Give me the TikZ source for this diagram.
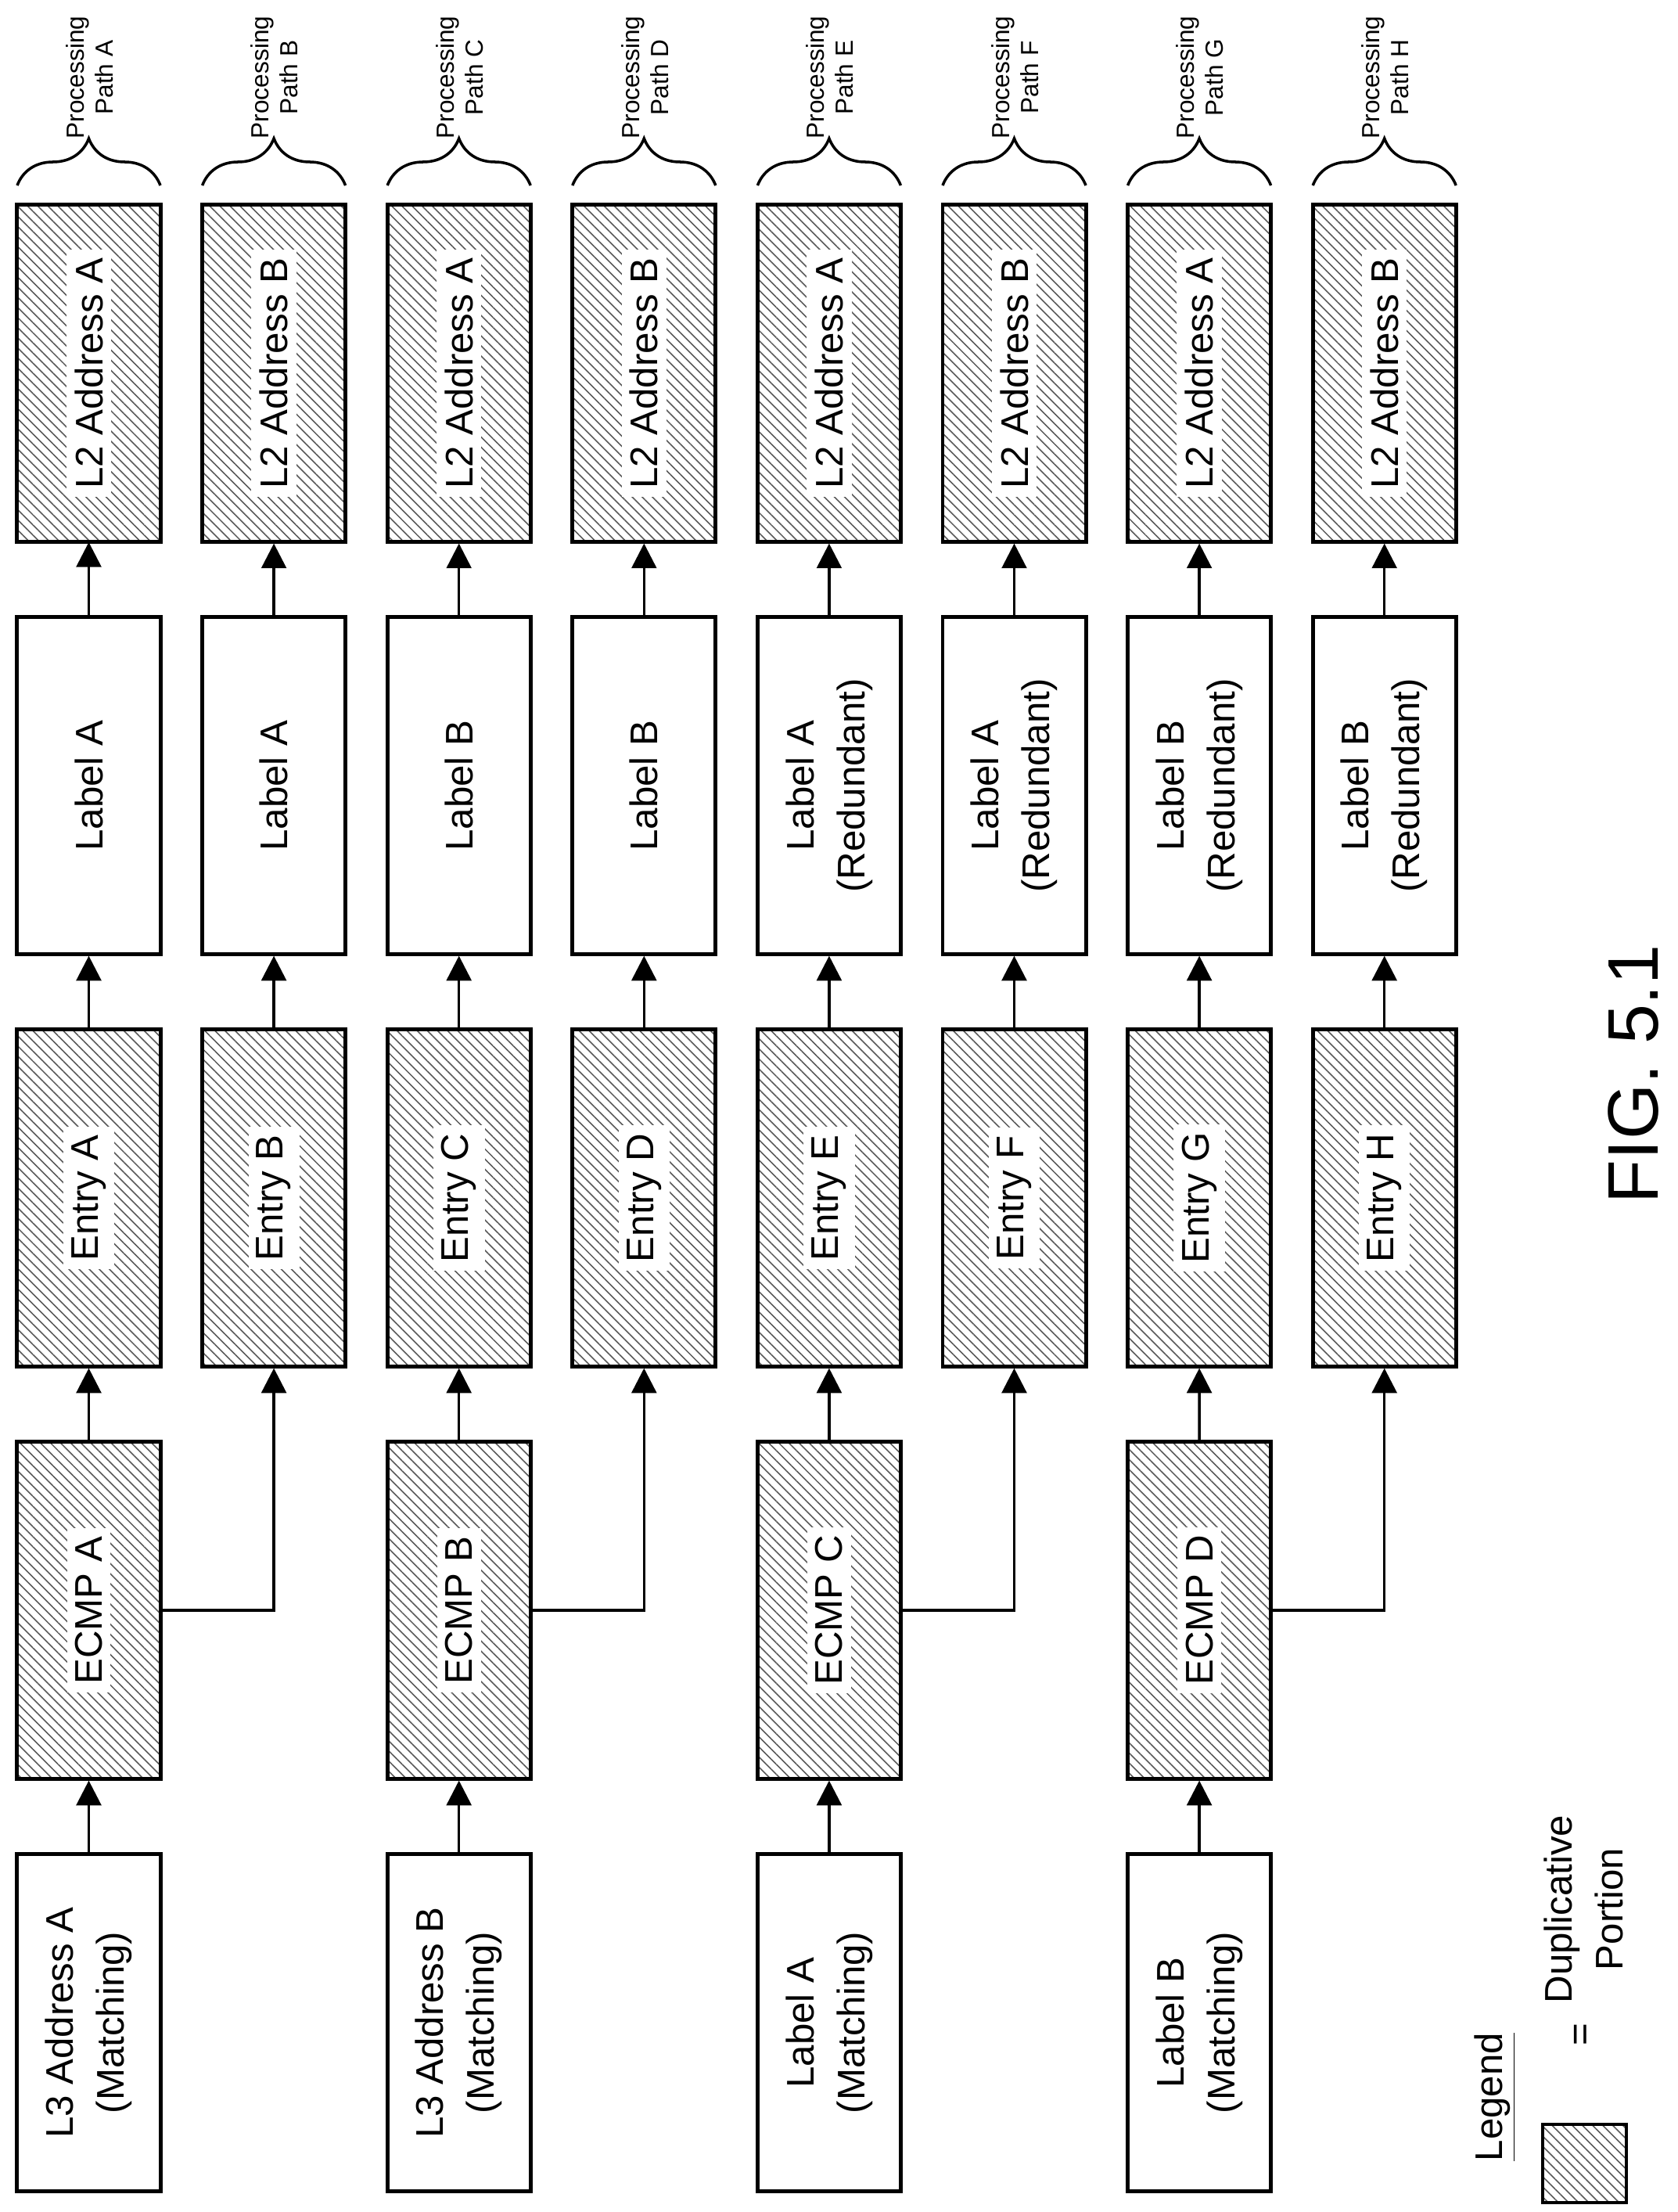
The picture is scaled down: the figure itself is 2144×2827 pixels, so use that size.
\documentclass[tikz,border=0pt]{standalone}
\usepackage{fontspec}
\setmainfont{Liberation Sans}
\usetikzlibrary{arrows.meta,patterns.meta,decorations.pathreplacing}

\begin{document}
\begin{tikzpicture}[
    x=0.01cm, y=-0.01cm,
    box/.style={
      rectangle,
      draw=black,
      line width=1.4pt,
      rotate=90,
      minimum width=4.3cm,
      minimum height=1.83cm,
      inner sep=0pt
    },
    dup/.style={
      box,
      pattern={Lines[angle=-45,distance=2.6pt,line width=0.45pt]},
      pattern color=black!65
    },
    txt/.style={
      rotate=90,
      align=center,
      font=\fontsize{14}{18.5}\selectfont
    },
    duptxt/.style={
      txt,
      fill=white,
      inner sep=3pt
    },
    flow/.style={
      -{Triangle[length=9pt,width=9pt]},
      line width=1pt
    },
    pathtag/.style={
      rotate=90,
      align=center,
      font=\fontsize{9}{10.5}\selectfont
    }
  ]
    \useasboundingbox (0,0) rectangle (2144,2827);

    % Processing paths A-H
    \foreach \c/\l/\m/\r [count=\i from 0] in {A/A/A/,B/B/A/,C/A/B/,D/B/B/,
        E/A/A/{\\(Redundant)},F/B/A/{\\(Redundant)},G/A/B/{\\(Redundant)},H/B/B/{\\(Redundant)}} {
      \pgfmathsetmacro\xx{113.5+236.6*\i}
      \node[dup] (ltwo\c) at (\xx,477) {};
      \node[duptxt] at (ltwo\c) {L2 Address \l};
      \node[box] (lab\c) at (\xx,1004) {};
      \node[txt] at (lab\c) {Label \m\r};
      \node[dup] (ent\c) at (\xx,1531) {};
      \node[duptxt] at (ent\c) {Entry \c};
      \draw[flow] (ent\c.east) -- (lab\c.west);
      \draw[flow] (lab\c.east) -- (ltwo\c.west);
      \draw[decorate, decoration={brace, amplitude=0.6cm}, line width=1pt]
        (\xx-91.5,237) -- (\xx+91.5,237);
      \node[pathtag] at (\xx+1,99) {Processing\\Path \c};
    }

    % ECMP groups and matching entries
    \foreach \e/\a/\b/\t [count=\i from 0] in {A/A/B/{L3 Address A},B/C/D/{L3 Address B},
        C/E/F/{Label A},D/G/H/{Label B}} {
      \pgfmathsetmacro\xx{113.5+473.2*\i}
      \node[dup] (ecmp\e) at (\xx,2058) {};
      \node[duptxt] at (ecmp\e) {ECMP \e};
      \node[box] (lthree\e) at (\xx,2585) {};
      \node[txt] at (lthree\e) {\t\\(Matching)};
      \draw[flow] (lthree\e.east) -- (ecmp\e.west);
      \draw[flow] (ecmp\e.east) -- (ent\a.west);
      \draw[flow] (ecmp\e.south) -| (ent\b.west);
    }

    % Figure label
    \node[rotate=90, font=\fontsize{26}{30}\selectfont] (fig) at (2088,1373) {FIG. 5.1};

    % Legend
    \node[txt] (legend) at (1911,2680) {\underline{Legend}};
    \draw[line width=1.4pt, pattern={Lines[angle=-45,distance=2.6pt,line width=0.45pt]},
      pattern color=black!65] (1972,2715) rectangle (2079,2815);
    \node[txt] (eq) at (2024,2600) {=};
    \node[txt] (duptag) at (2024,2440) {Duplicative\\Portion};

  \end{tikzpicture}
\end{document}
